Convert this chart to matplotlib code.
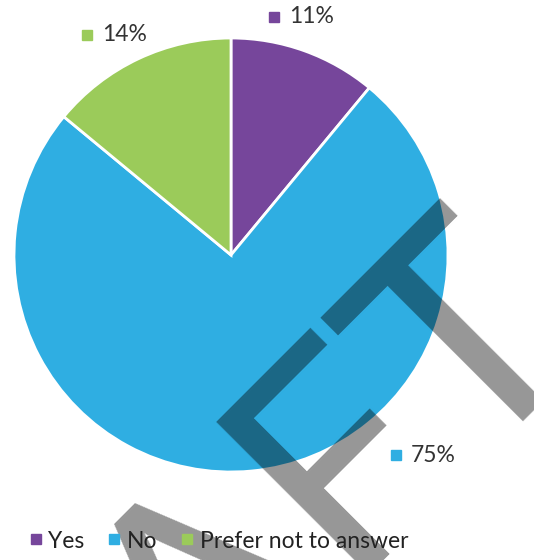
import matplotlib.pyplot as plt
from matplotlib.lines import Line2D

# data
categories = ["Yes", "No", "Prefer not to answer"]
values = [11, 75, 14]
colors = ["#76469B", "#2FAEE2", "#9BCB5A"]
# label anchor (marker centre) for each slice, in pie units (radius = 1)
label_pos = [(0.198, 1.097), (0.760, -0.922), (-0.664, 1.014)]

W, H = 534, 560
fig = plt.figure(figsize=(W / 100, H / 100), dpi=100)
plt.rcParams['font.family'] = ['Lato', 'DejaVu Sans']

cx, cy, r = 231, 255, 217
ax = fig.add_axes([(cx - r) / W, 1 - (cy + r) / H, 2 * r / W, 2 * r / H])
ax.pie(values, colors=colors, startangle=90, counterclock=False, radius=1,
       wedgeprops=dict(edgecolor="white", linewidth=2))
ax.set_xlim(-1, 1)
ax.set_ylim(-1, 1)
ax.set_aspect("equal")
ax.axis("off")

# data labels: small square + percent text
for (lx, ly), v, c in zip(label_pos, values, colors):
    ax.plot([lx], [ly], marker="s", color=c, markersize=7, clip_on=False)
    ax.annotate(f"{v}%", (lx, ly), xytext=(11, 0), textcoords="offset points",
                ha="left", va="center", fontsize=16.5, color="#333333",
                annotation_clip=False)

# legend at bottom
handles = [Line2D([], [], marker="s", linestyle="none", color=c, markersize=7)
           for c in colors]
fig.legend(handles, categories, loc="center left", bbox_to_anchor=(8 / W, 1 - 541 / H),
           ncol=3, frameon=False, fontsize=16.5, handlelength=0.6,
           handletextpad=0.25, columnspacing=1.0, labelcolor="#222222")

# watermark
fig.text(588 / W, 1 - 327 / H, "DRAFT", rotation=45, rotation_mode="anchor",
         ha="right", va="baseline", fontsize=217, fontweight="normal",
         color="black", alpha=0.41)

fig.savefig("out.png", dpi=100)
